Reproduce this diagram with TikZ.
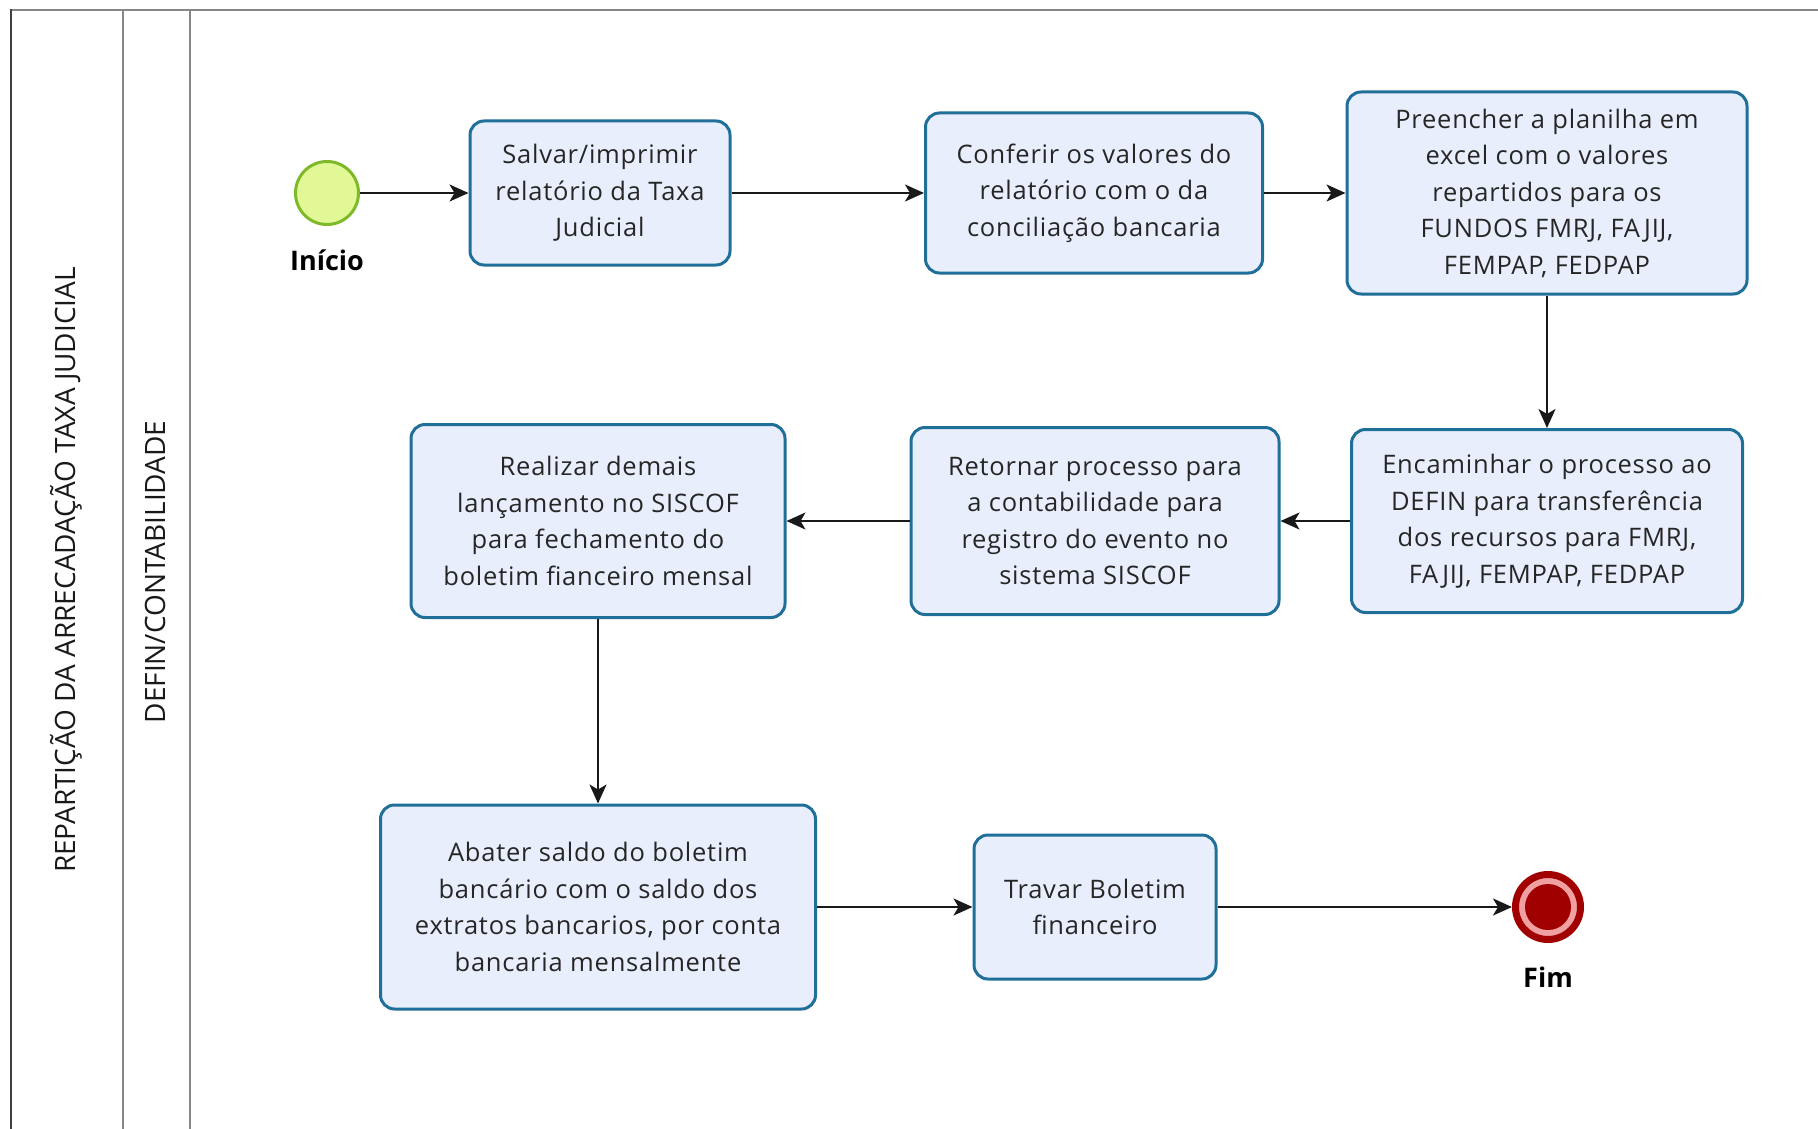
\documentclass[tikz,border=0pt]{standalone}
\usepackage{fontspec}
\setmainfont{Open Sans}
\usetikzlibrary{arrows.meta,positioning}
\definecolor{taskline}{RGB}{31,111,153}
\definecolor{taskfill}{RGB}{233,238,252}
\definecolor{inifill}{RGB}{226,248,150}
\definecolor{iniline}{RGB}{125,185,40}
\definecolor{fimred}{RGB}{160,0,0}
\definecolor{fimpink}{RGB}{240,160,160}
\definecolor{laneline}{RGB}{135,135,135}

\begin{document}
\begin{tikzpicture}[x=1pt,y=-1pt,node distance=20pt,
task/.style={draw=taskline,line width=3pt,rounded corners=14pt,fill=taskfill,align=center,text=black!85,font=\fontsize{25.5}{36.5}\selectfont\addfontfeature{LetterSpace=3}},
ev/.style={circle,inner sep=0pt,minimum size=#1},
lbl/.style={font=\bfseries\fontsize{27}{30}\selectfont},
lanelbl/.style={rotate=90,text=black!90,font=\fontsize{28}{32}\selectfont},
arr/.style={-{Stealth[length=19pt,width=17pt,inset=5pt]},line width=2pt,black!90}]
\useasboundingbox (0,0) rectangle (1818,1129);
% lanes
\draw[laneline,line width=2pt] (11,10)--(1818,10) (123,10)--(123,1129) (190,10)--(190,1129);
\draw[black!75,line width=2.5pt] (11,1129)--(11,9);
\node[lanelbl](pool) at (66,570){REPARTIÇÃO DA ARRECADAÇÃO TAXA JUDICIAL};
\node[lanelbl](lane) at (155,572){DEFIN/CONTABILIDADE};
% events
\node[ev=63pt,draw=iniline,line width=3pt,fill=inifill](ini) at (327,193){};
\node[lbl,below=of ini](inilbl){Início};
\node[ev=65pt,draw=fimred,line width=7pt,fill=fimpink,
  path picture={\fill[fimred] (path picture bounding box.center) circle (23pt);}](fim) at (1548,907){};
\node[lbl,below=of fim](fimlbl){Fim};
% tasks
\node[task,minimum width=260pt,minimum height=144pt](t1) at (600,193){Salvar/imprimir\\relatório da Taxa\\Judicial};
\node[task,minimum width=337pt,minimum height=160pt](t2) at (1094,193){Conferir os valores do\\relatório com o da\\conciliação bancaria};
\node[task,minimum width=400pt,minimum height=202pt](t3) at (1547,193){Preencher a planilha em\\excel com o valores\\repartidos para os\\FUNDOS FMRJ, FAJIJ,\\FEMPAP, FEDPAP};
\node[task,minimum width=391pt,minimum height=183pt](t4) at (1547,521){Encaminhar o processo ao\\DEFIN para transferência\\dos recursos para FMRJ,\\FAJIJ, FEMPAP, FEDPAP};
\node[task,minimum width=368pt,minimum height=187pt](t5) at (1095,521){Retornar processo para\\a contabilidade para\\registro do evento no\\sistema SISCOF};
\node[task,minimum width=374pt,minimum height=193pt](t6) at (598,521){Realizar demais\\lançamento no SISCOF\\para fechamento do\\boletim fianceiro mensal};
\node[task,minimum width=435pt,minimum height=204pt](t7) at (598,907){Abater saldo do boletim\\bancário com o saldo dos\\extratos bancarios, por conta\\bancaria mensalmente};
\node[task,minimum width=242pt,minimum height=144pt](t8) at (1095,907){Travar Boletim\\financeiro};
% flow
\draw[arr](ini)--(t1);\draw[arr](t1)--(t2);\draw[arr](t2)--(t3);
\draw[arr](t3)--(t4);\draw[arr](t4)--(t5);\draw[arr](t5)--(t6);
\draw[arr](t6)--(t7);\draw[arr](t7)--(t8);\draw[arr](t8)--(fim);
\end{tikzpicture}
\end{document}
